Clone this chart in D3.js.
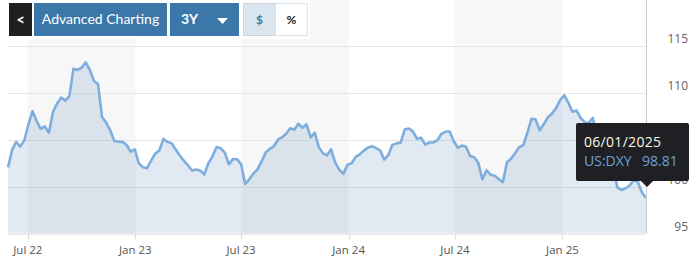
<!DOCTYPE html>
<html><head><meta charset="utf-8">
<script src="https://cdn.jsdelivr.net/npm/d3@7"></script>
<style>
html,body{margin:0;padding:0;background:#fff;}
svg{display:block;}
</style></head>
<body>
<svg id="chart" width="699" height="258"></svg>
<script>
// ---- data ----
const seriesName = "US:DXY";
const startDate = "2022-05-28"; // first weekly observation
const values = [
102.06,103.93,104.79,104.29,104.95,106.67,108.07,107.02,106.18,106.45,
105.76,107.98,108.87,109.53,109.20,109.68,112.59,112.48,112.71,113.28,
112.50,111.33,110.98,107.44,106.85,106.03,104.88,104.80,104.79,104.46,
103.74,103.99,102.47,102.07,101.98,102.79,103.53,103.86,105.11,104.77,
104.65,103.98,103.34,102.79,102.27,101.73,101.83,101.74,101.30,102.52,
103.22,104.24,104.12,103.65,102.40,102.95,102.94,102.39,100.29,100.79,
101.40,101.85,102.70,103.65,104.04,104.32,105.02,105.28,105.66,106.25,
106.08,106.72,106.29,106.67,105.27,105.77,104.23,103.57,103.35,104.00,
102.57,101.83,101.37,102.33,102.50,103.18,103.45,103.85,104.17,104.33,
104.12,103.88,102.89,103.39,104.47,104.63,104.71,106.10,106.22,105.91,
105.11,105.24,104.49,104.72,104.73,104.96,105.65,105.89,105.89,104.86,
104.14,104.39,104.27,103.28,103.15,102.52,100.79,101.74,101.28,101.16,
100.81,100.47,102.58,103.00,103.58,104.23,104.45,105.76,107.26,107.19,
106.03,106.67,107.41,107.80,108.39,109.26,109.77,108.99,108.01,108.15,
107.35,106.89,106.78,107.36,105.22,104.09,103.99,103.93,102.00,99.91,
99.65,99.81,100.13,100.72,100.50,99.38,98.81
];
const xTickDates = ["2022-07-01","2023-01-01","2023-07-01","2024-01-01","2024-07-01","2025-01-01"];
const xTickLabels = ["Jul 22","Jan 23","Jul 23","Jan 24","Jul 24","Jan 25"];
const yTicks = [95,100,105,110,115];
const tooltipDate = "06/01/2025";
const tooltipValue = "98.81";
const buttonLabels = ["Advanced Charting","3Y","$","%"];

// ---- setup ----
const parse = d3.timeParse("%Y-%m-%d");
const start = parse(startDate);
const data = values.map((v,i)=>({date:d3.timeDay.offset(start,7*i), value:v}));
const tickDates = xTickDates.map(parse);

const svg = d3.select("#chart");
const x = d3.scaleTime().domain(d3.extent(data,d=>d.date)).range([8,646]);
const y = d3.scaleLinear().domain([95,115]).range([233.5,46.3]);
const plotTop = 0, plotBottom = y(95), plotLeft = 8, plotRight = 646;

// alternating bands
const bandEdges = [...tickDates, x.invert(plotRight)];
for(let i=0;i<tickDates.length;i++){
  if(i%2===0){
    const x0 = x(bandEdges[i]), x1 = Math.min(x(bandEdges[i+1]), plotRight);
    svg.append("rect").attr("x",x0).attr("y",plotTop).attr("width",x1-x0)
      .attr("height",plotBottom-plotTop).attr("fill","#f7f7f7");
  }
}

// gridlines
svg.append("g").selectAll("line").data(yTicks).join("line")
  .attr("x1",plotLeft).attr("x2",plotRight)
  .attr("y1",d=>Math.round(y(d))+0.5).attr("y2",d=>Math.round(y(d))+0.5)
  .attr("stroke","#e6e6e6").attr("stroke-width",1);

// area + line
svg.append("path").datum(data)
  .attr("d",d3.area().x(d=>x(d.date)).y0(plotBottom).y1(d=>y(d.value)))
  .attr("fill","rgba(90,140,185,0.18)");
svg.append("path").datum(data)
  .attr("d",d3.line().x(d=>x(d.date)).y(d=>y(d.value)))
  .attr("fill","none").attr("stroke","#7daedd").attr("stroke-width",2.6)
  .attr("stroke-linejoin","round");

// crosshair at last point
const last = data[data.length-1];
svg.append("line").attr("x1",Math.round(x(last.date))+0.5).attr("x2",Math.round(x(last.date))+0.5)
  .attr("y1",plotTop).attr("y2",plotBottom).attr("stroke","#cccccc").attr("stroke-width",1);

// x axis ticks and labels
const xg = svg.append("g");
xg.selectAll("line").data(tickDates).join("line")
  .attr("x1",d=>Math.round(x(d))+0.5).attr("x2",d=>Math.round(x(d))+0.5)
  .attr("y1",plotBottom).attr("y2",plotBottom+6).attr("stroke","#dddddd");
xg.selectAll("text").data(tickDates).join("text")
  .attr("x",d=>x(d)).attr("y",254).attr("text-anchor","middle")
  .attr("font-family","Open Sans, sans-serif").attr("font-size",11.5).attr("fill","#555")
  .text((d,i)=>xTickLabels[i]);

// y axis labels
svg.append("g").selectAll("text").data(yTicks).join("text")
  .attr("x",688).attr("y",d=>y(d)-3).attr("text-anchor","end")
  .attr("font-family","Open Sans, sans-serif").attr("font-size",12).attr("fill","#666")
  .text(d=>d);

// button bar
const bar = svg.append("g");
bar.append("rect").attr("x",0).attr("y",0).attr("width",310).attr("height",39).attr("fill","#fff");
bar.append("rect").attr("x",9).attr("y",3).attr("width",23).attr("height",33).attr("fill","#1f1f1f");
bar.append("text").attr("x",20.5).attr("y",24.5).attr("text-anchor","middle").attr("fill","#fff")
  .attr("font-family","Lato, sans-serif").attr("font-weight","bold").attr("font-size",15).text("<");
const blue = "#3b77a9";
bar.append("rect").attr("x",34).attr("y",3).attr("width",133).attr("height",33).attr("fill",blue);
bar.append("text").attr("x",100.5).attr("y",24).attr("text-anchor","middle").attr("fill","#fff")
  .attr("font-family","Lato, sans-serif").attr("font-size",14).text(buttonLabels[0]);
bar.append("rect").attr("x",170).attr("y",3).attr("width",69).attr("height",33).attr("fill",blue);
bar.append("text").attr("x",181).attr("y",24).attr("fill","#fff")
  .attr("font-family","Lato, sans-serif").attr("font-weight","bold").attr("font-size",14).text(buttonLabels[1]);
bar.append("path").attr("d","M217,18L228,18L222.5,24Z").attr("fill","#fff");
bar.append("rect").attr("x",243.5).attr("y",3.5).attr("width",32).attr("height",32)
  .attr("fill","#dbe5ee").attr("stroke","#c9d5e0");
bar.append("text").attr("x",259.5).attr("y",23.5).attr("text-anchor","middle").attr("fill",blue)
  .attr("font-family","Lato, sans-serif").attr("font-weight","bold").attr("font-size",12).text(buttonLabels[2]);
bar.append("rect").attr("x",275.5).attr("y",3.5).attr("width",32).attr("height",32)
  .attr("fill","#fff").attr("stroke","#dde3ea");
bar.append("text").attr("x",291.5).attr("y",23.5).attr("text-anchor","middle").attr("fill","#222")
  .attr("font-family","Lato, sans-serif").attr("font-weight","bold").attr("font-size",12).text(buttonLabels[3]);

// tooltip
const tx = x(last.date)+1, tipY = 187;
const tt = svg.append("g");
tt.append("path")
  .attr("d",`M578,123 H687 Q689,123 689,125 V179 Q689,181 687,181 H${tx+6} L${tx},${tipY} L${tx-6},181 H578 Q576,181 576,179 V125 Q576,123 578,123 Z`)
  .attr("fill","#1e2023");
tt.append("text").attr("x",584).attr("y",147).attr("fill","#fff6e2")
  .attr("font-family","Open Sans, sans-serif").attr("font-size",14).attr("letter-spacing",0.3).text(tooltipDate);
tt.append("text").attr("x",584).attr("y",166).attr("fill","#6ca2d8")
  .attr("font-family","Open Sans, sans-serif").attr("font-size",14).text(seriesName);
tt.append("text").attr("x",642).attr("y",166).attr("fill","#6ca2d8")
  .attr("font-family","Open Sans, sans-serif").attr("font-size",14).text(tooltipValue);
</script>
</body></html>
